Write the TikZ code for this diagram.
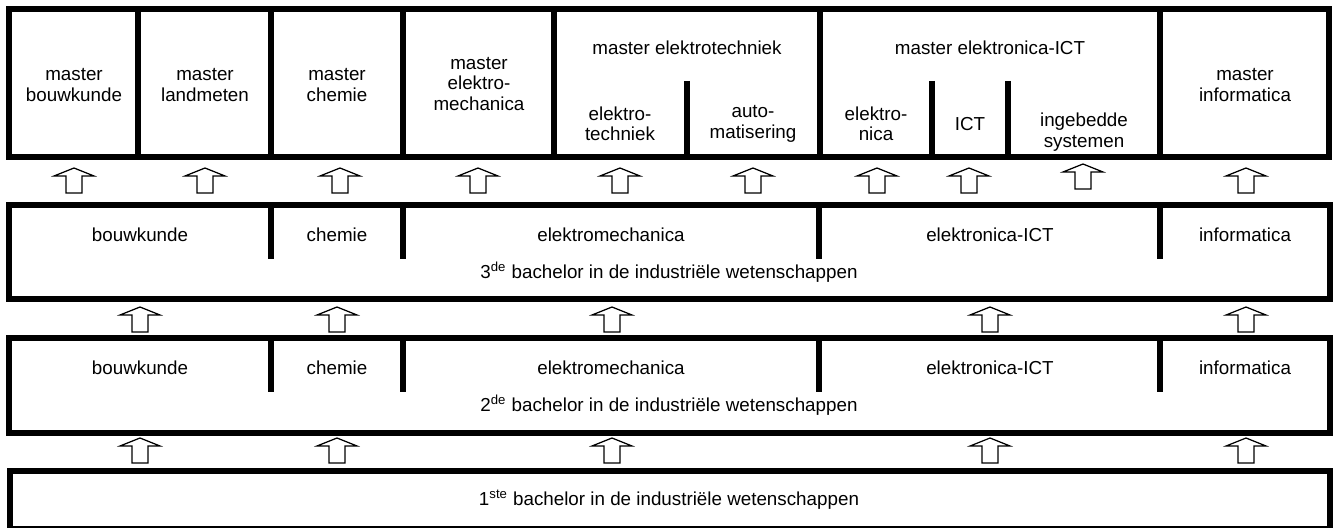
\documentclass[tikz,border=0pt]{standalone}
\usepackage{fontspec}
\setmainfont{Liberation Sans}
\usepackage{tikz}

% open block arrow, tip at (#1,#2)
\newcommand{\openarrow}[2]{%
  \draw[line width=0.7pt,fill=white] (#1,#2) -- ++(-20,8) -- ++(12,0) -- ++(0,17)
    -- ++(16,0) -- ++(0,-17) -- ++(12,0) -- cycle;}

\begin{document}
\begin{tikzpicture}[x=0.02cm,y=-0.02cm,
    wall/.style={line width=3.4pt},
    lbl/.style={font=\fontsize{10.7}{11.6}\selectfont,align=center,inner sep=0pt}]
        \useasboundingbox (0,0) rectangle (1337,527);
        % masters
        \draw[wall] (9,9) rectangle (1329,157);
        \draw[wall] (138,9)--(138,157);
        \draw[wall] (271,9)--(271,157);
        \draw[wall] (403,9)--(403,157);
        \draw[wall] (554,9)--(554,157);
        \draw[wall] (820,9)--(820,157);
        \draw[wall] (1160,9)--(1160,157);
        \draw[wall] (687,81)--(687,157);
        \draw[wall] (932,81)--(932,157);
        \draw[wall] (1008,81)--(1008,157);
        \node[lbl] (mbouw) at (74,85) {master\\bouwkunde};
        \node[lbl] (mland) at (205,85) {master\\landmeten};
        \node[lbl] (mchem) at (337,85) {master\\chemie};
        \node[lbl] (mem) at (479,84) {master\\elektro-\\mechanica};
        \node[lbl] (met) at (687,48) {master elektrotechniek};
        \node[lbl] (etech) at (620,124) {elektro-\\techniek};
        \node[lbl] (auto) at (753,124) {auto-\\matisering};
        \node[lbl] (meict) at (990,48) {master elektronica-ICT};
        \node[lbl] (elnica) at (876,124) {elektro-\\nica};
        \node[lbl] (ict) at (970,124) {ICT};
        \node[lbl] (ingeb) at (1084,132) {ingebedde\\systemen};
        \node[lbl] (minf) at (1245,85) {master\\informatica};

        \openarrow{74}{168}
        \openarrow{205}{168}
        \openarrow{340}{168}
        \openarrow{478}{168}
        \openarrow{620}{168}
        \openarrow{753}{168}
        \openarrow{877}{168}
        \openarrow{969}{168}
        \openarrow{1083}{164}
        \openarrow{1246}{168}

        % 3de bachelor
        \draw[wall] (9,205) rectangle (1330,299);
        \draw[wall] (271,205)--(271,259);
        \draw[wall] (403,205)--(403,259);
        \draw[wall] (819,205)--(819,259);
        \draw[wall] (1160,205)--(1160,259);
        \node[lbl] (bbouw3) at (140,235) {bouwkunde};
        \node[lbl] (bchem3) at (337,235) {chemie};
        \node[lbl] (bem3) at (611,235) {elektromechanica};
        \node[lbl] (bict3) at (990,235) {elektronica-ICT};
        \node[lbl] (binf3) at (1245,235) {informatica};
        \node[lbl] (ba3) at (669,272) {3\textsuperscript{de} bachelor in de industriële wetenschappen};

        \openarrow{140}{307}
        \openarrow{337}{307}
        \openarrow{612}{307}
        \openarrow{990}{307}
        \openarrow{1246}{307}

        % 2de bachelor
        \draw[wall] (9,338) rectangle (1330,433);
        \draw[wall] (271,338)--(271,392);
        \draw[wall] (403,338)--(403,392);
        \draw[wall] (819,338)--(819,392);
        \draw[wall] (1160,338)--(1160,392);
        \node[lbl] (bbouw2) at (140,368) {bouwkunde};
        \node[lbl] (bchem2) at (337,368) {chemie};
        \node[lbl] (bem2) at (611,368) {elektromechanica};
        \node[lbl] (bict2) at (990,368) {elektronica-ICT};
        \node[lbl] (binf2) at (1245,368) {informatica};
        \node[lbl] (ba2) at (669,405) {2\textsuperscript{de} bachelor in de industriële wetenschappen};

        \openarrow{140}{438}
        \openarrow{337}{438}
        \openarrow{612}{438}
        \openarrow{990}{438}
        \openarrow{1246}{438}

        % 1ste bachelor
        \draw[wall] (10,471) rectangle (1330,529);
        \node[lbl] (ba1) at (669,500) {1\textsuperscript{ste} bachelor in de industriële wetenschappen};
      \end{tikzpicture}
\end{document}
